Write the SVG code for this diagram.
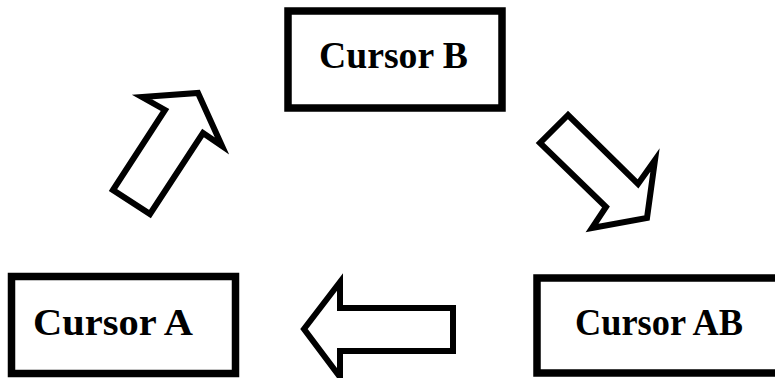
<svg xmlns="http://www.w3.org/2000/svg" width="775" height="378" viewBox="0 0 775 378">
<style>
.box{fill:#fff;stroke:#000;stroke-width:7.5}
.lbl{font-family:"Liberation Serif","Times New Roman",serif;font-weight:bold;font-size:37px;fill:#000}
.arr{fill:#fff;stroke:#000;stroke-width:6;stroke-linejoin:miter;stroke-miterlimit:10}
</style>
<rect width="775" height="378" fill="#fff"/>
<g id="connectors">
<polygon class="arr" points="113,190 165,110 142,97 198,93 222,146 203,133 150,214"/>
<polygon class="arr" points="568,115 540,143 606,207 592,228 647,218 655,160 638,184"/>
<polygon class="arr" points="304,329 340,282 340,308 453,308 453,351 340,351 340,377"/>
</g>
<g id="cursorB">
<rect class="box" x="288" y="11" width="214" height="97"/>
<text class="lbl" x="319" y="68" textLength="149" lengthAdjust="spacingAndGlyphs">Cursor B</text>
</g>
<g id="cursorA">
<rect class="box" x="11.5" y="276.5" width="224" height="97"/>
<text class="lbl" x="33" y="335" textLength="160" lengthAdjust="spacingAndGlyphs">Cursor A</text>
</g>
<g id="cursorAB">
<rect class="box" x="537" y="278" width="260" height="95"/>
<text class="lbl" x="575" y="335" textLength="168" lengthAdjust="spacingAndGlyphs">Cursor AB</text>
</g>
</svg>
